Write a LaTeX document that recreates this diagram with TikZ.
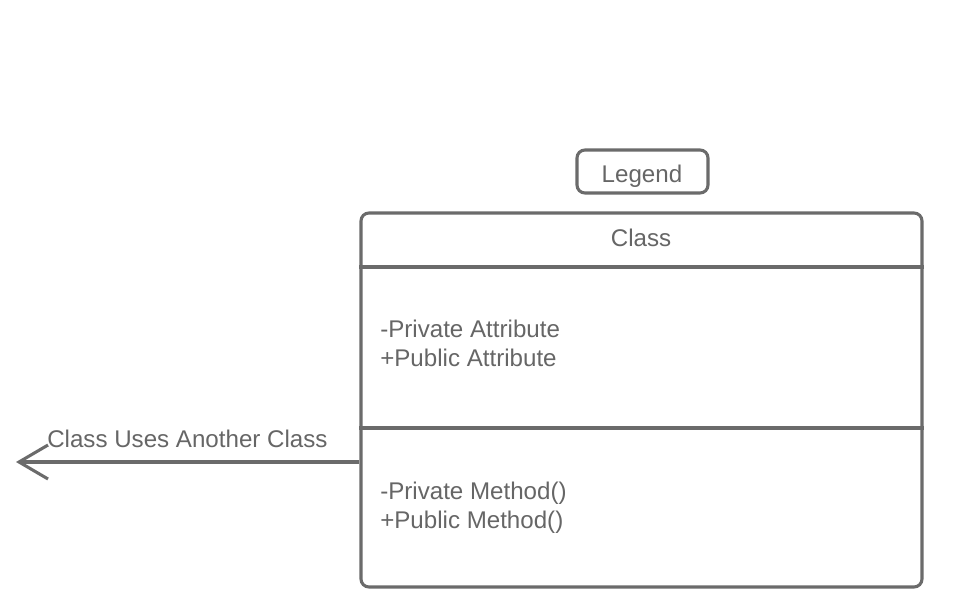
\documentclass[tikz,border=0pt]{standalone}
\usepackage{fontspec}
\setmainfont{Liberation Sans}
\usetikzlibrary{arrows.meta}
\definecolor{linegray}{HTML}{6B6B6B}
\definecolor{textgray}{HTML}{666666}
\begin{document}
\begin{tikzpicture}[x=0.75pt,y=-0.75pt,
  umlline/.style={draw=linegray,line width=2.3pt},
  umlbox/.style={umlline,rounded corners=6pt,inner sep=0pt,fill=white},
  umltext/.style={text=textgray,font=\fontsize{18.1pt}{21.75pt}\selectfont,inner sep=0pt}]
\useasboundingbox[fill=white] (0,0) rectangle (954,600);
% Legend
\node[umlbox,minimum width=98.25pt,minimum height=32.25pt] (legend) at (642.5,171.5) {};
\node[umltext,anchor=base] (legendtext) at (642,182) {Legend};
% Class box
\node[umlbox,minimum width=420.75pt,minimum height=280.5pt] (classbox) at (641.5,400) {};
\coordinate (d1) at (0,267);
\coordinate (d2) at (0,428);
\draw[umlline] (classbox.west |- d1) -- (classbox.east |- d1);
\draw[umlline] (classbox.west |- d2) -- (classbox.east |- d2);
\node[umltext,anchor=base] (classname) at (641,246) {Class};
\node[umltext,anchor=base west] (attr1) at (380,337) {-Private Attribute};
\node[umltext,anchor=base west] (attr2) at (380,366) {+Public Attribute};
\node[umltext,anchor=base west] (meth1) at (380,499) {-Private Method()};
\node[umltext,anchor=base west] (meth2) at (380,528) {+Public Method()};
% Association arrow
\coordinate (tip) at (16,462);
\coordinate (arrowrow) at (0,462);
\draw[umlline,-{Straight Barb[length=21.75pt,width=25.5pt,line width=2.3pt]}] (classbox.west |- arrowrow) -- (tip);
\node[umltext,anchor=base west] (uses) at (47,447) {Class Uses Another Class};
\end{tikzpicture}
\end{document}
